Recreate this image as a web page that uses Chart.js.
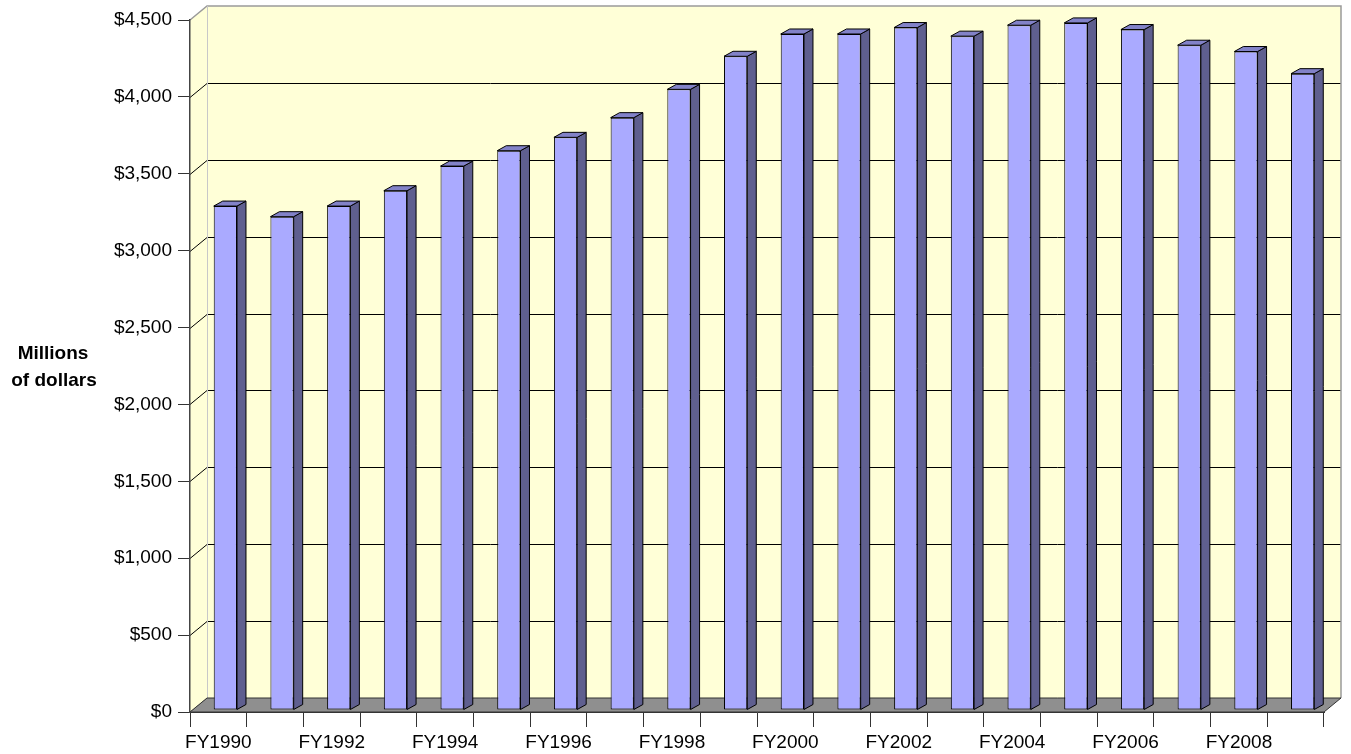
<!DOCTYPE html>
<html>
<head>
<meta charset="utf-8">
<script src="https://cdn.jsdelivr.net/npm/chart.js@4.4.1/dist/chart.umd.min.js"></script>
<style>
  html, body { margin: 0; padding: 0; background: #fff; }
  canvas { display: block; }
</style>
</head>
<body>
<canvas id="chart" width="1351" height="754"></canvas>
<script>
// Data (millions of dollars)
const years = ['FY1990', 'FY1991', 'FY1992', 'FY1993', 'FY1994', 'FY1995', 'FY1996',
  'FY1997', 'FY1998', 'FY1999', 'FY2000', 'FY2001', 'FY2002', 'FY2003', 'FY2004',
  'FY2005', 'FY2006', 'FY2007', 'FY2008', 'FY2009'];
const spending = [3277, 3208, 3277, 3377, 3537, 3637, 3724, 3852, 4036, 4251,
  4396, 4396, 4438, 4382, 4453, 4468, 4425, 4323, 4282, 4138];
const yMin = 0;
const yMax = 4500;
const yStep = 500;
const yTitle = ['Millions', 'of dollars'];

const FONT = '"Liberation Sans", Arial, sans-serif';

// fake 3D depth
const WALL_DX = 17, WALL_DY = -14;
const BAR_DX = 9, BAR_DY = -5;
const BAR_SHIFT_X = 7, BAR_SHIFT_Y = -2;

const wallsPlugin = {
  id: 'walls',
  beforeDraw(chart) {
    const { ctx, chartArea: a, scales } = chart;
    const L = a.left, R = a.right, T = a.top, B = a.bottom;
    ctx.save();

    // side wall + back wall
    ctx.fillStyle = '#FFFFD7';
    ctx.beginPath();
    ctx.moveTo(L, T);
    ctx.lineTo(L + WALL_DX, T + WALL_DY);
    ctx.lineTo(L + WALL_DX, B + WALL_DY);
    ctx.lineTo(L, B);
    ctx.closePath();
    ctx.fill();
    ctx.fillRect(L + WALL_DX, T + WALL_DY, R - L, B - T);

    // gridlines
    ctx.strokeStyle = '#000';
    ctx.lineWidth = 1;
    scales.y.ticks.forEach(t => {
      if (t.value >= yMax) return;
      const y = Math.round(scales.y.getPixelForValue(t.value)) + 0.5;
      ctx.beginPath();
      ctx.moveTo(L, y);
      ctx.lineTo(L + WALL_DX, y + WALL_DY);
      ctx.lineTo(R + WALL_DX, y + WALL_DY);
      ctx.stroke();
    });

    // back wall border
    ctx.strokeStyle = '#9a9a9a';
    ctx.lineWidth = 1.5;
    ctx.beginPath();
    ctx.moveTo(L, T);
    ctx.lineTo(L + WALL_DX, T + WALL_DY);
    ctx.lineTo(R + WALL_DX, T + WALL_DY);
    ctx.lineTo(R + WALL_DX, B + WALL_DY);
    ctx.stroke();
    ctx.strokeStyle = '#c8c8c8';
    ctx.lineWidth = 1;
    ctx.beginPath();
    ctx.moveTo(L + WALL_DX + 0.5, T + WALL_DY);
    ctx.lineTo(L + WALL_DX + 0.5, B + WALL_DY);
    ctx.stroke();

    // floor
    ctx.fillStyle = '#8f8f8f';
    ctx.strokeStyle = '#333';
    ctx.lineWidth = 1;
    ctx.beginPath();
    ctx.moveTo(L, B);
    ctx.lineTo(R, B);
    ctx.lineTo(R + WALL_DX, B + WALL_DY);
    ctx.lineTo(L + WALL_DX, B + WALL_DY);
    ctx.closePath();
    ctx.fill();
    ctx.stroke();

    ctx.restore();
  },
  beforeDatasetsDraw(chart) {
    chart.ctx.save();
    chart.ctx.translate(BAR_SHIFT_X, BAR_SHIFT_Y);
  },
  afterDatasetsDraw(chart) {
    const ctx = chart.ctx;
    ctx.lineWidth = 1;
    ctx.strokeStyle = '#000';
    chart.getDatasetMeta(0).data.forEach(bar => {
      const { x, y, base, width } = bar.getProps(['x', 'y', 'base', 'width'], true);
      const l = x - width / 2, r = x + width / 2;
      // side face
      ctx.fillStyle = '#5F5F8F';
      ctx.beginPath();
      ctx.moveTo(r, y);
      ctx.lineTo(r + BAR_DX, y + BAR_DY);
      ctx.lineTo(r + BAR_DX, base + BAR_DY);
      ctx.lineTo(r, base);
      ctx.closePath();
      ctx.fill();
      ctx.stroke();
      // top face
      ctx.fillStyle = '#8282C8';
      ctx.beginPath();
      ctx.moveTo(l, y);
      ctx.lineTo(l + BAR_DX, y + BAR_DY);
      ctx.lineTo(r + BAR_DX, y + BAR_DY);
      ctx.lineTo(r, y);
      ctx.closePath();
      ctx.fill();
      ctx.stroke();
    });
    ctx.restore();
  },
  afterDraw(chart) {
    const { ctx, chartArea: a } = chart;
    ctx.save();
    ctx.fillStyle = '#000';
    ctx.font = 'bold 19px ' + FONT;
    ctx.textAlign = 'center';
    ctx.textBaseline = 'middle';
    const cy = (a.top + a.bottom) / 2;
    ctx.fillText(yTitle[0], 53, cy - 12);
    ctx.fillText(yTitle[1], 54, cy + 15);
    ctx.restore();
  }
};

new Chart(document.getElementById('chart'), {
  type: 'bar',
  data: {
    labels: years,
    datasets: [{
      data: spending,
      backgroundColor: '#AAAAFF',
      borderColor: '#000',
      borderWidth: 1,
      borderSkipped: false,
      barPercentage: 0.41,
      categoryPercentage: 1,
      clip: false,
    }],
  },
  options: {
    responsive: false,
    animation: false,
    layout: { padding: { top: 20, right: 27, left: 0, bottom: 0 } },
    plugins: {
      legend: { display: false },
      tooltip: { enabled: false },
    },
    scales: {
      x: {
        offset: true,
        grid: {
          offset: true,
          drawOnChartArea: false,
          tickLength: 15,
          color: '#333',
        },
        border: { display: true, color: '#333', width: 1 },
        ticks: {
          autoSkip: false,
          maxRotation: 0,
          padding: 4,
          color: '#000',
          font: { family: FONT, size: 19 },
          callback: (v, i) => (i % 2 === 0 ? years[i] : ''),
        },
        afterFit: s => { s.height = 42; },
      },
      y: {
        min: yMin,
        max: yMax,
        grid: {
          drawOnChartArea: false,
          tickLength: 12,
          color: '#333',
        },
        border: { display: true, color: '#444', width: 1.5 },
        ticks: {
          stepSize: yStep,
          padding: 6,
          color: '#000',
          font: { family: FONT, size: 19 },
          callback: v => '$' + v.toLocaleString('en-US'),
        },
        afterFit: s => { s.width = 190; },
      },
    },
  },
  plugins: [wallsPlugin],
});
</script>
</body>
</html>
